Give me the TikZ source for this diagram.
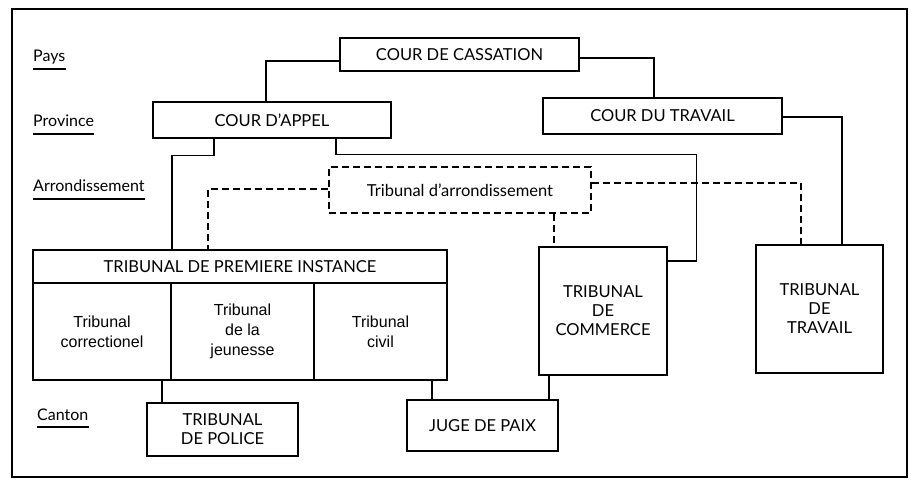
\documentclass[tikz,border=0pt]{standalone}
\usepackage{fontspec}
\setmainfont{Lato}
\newfontfamily\cellfont{Liberation Sans}
\usepackage{tikz}
\usetikzlibrary{positioning}

\begin{document}
\begin{tikzpicture}[x=1pt,y=-1pt,
    box/.style={draw,line width=1.3pt,inner sep=0pt,align=center,font=\fontsize{16.5}{19}\selectfont},
    dashbox/.style={box,line width=2.6pt,dash pattern=on 7pt off 4pt},
    level/.style={anchor=base west,inner sep=0pt,font=\fontsize{16}{18}\selectfont},
    link/.style={line width=1.1pt},
    dlink/.style={line width=2.6pt,dash pattern=on 7pt off 4pt}]
    \useasboundingbox (0,0) rectangle (921,486);
    \draw[line width=1.6pt] (12,9) rectangle (907,477);

    % levels
    \node[level] (pays) at (33,62) {Pays};
    \node[level] (prov) at (33,127) {Province};
    \node[level] (arrl) at (33,192) {Arrondissement};
    \node[level] (cant) at (37,420) {Canton};
    \foreach \l in {pays,prov,arrl,cant}
        \draw[link] ([yshift=-7pt]\l.base west) -- ([yshift=-7pt]\l.base east);

    % courts
    \node[box,minimum width=239pt,minimum height=33pt] (cass) at (459.5,54.5) {COUR DE CASSATION};
    \node[box,minimum width=238pt,minimum height=36pt] (appel) at (272,120) {COUR D'APPEL};
    \node[box,minimum width=239pt,minimum height=36pt] (cdt) at (662.5,116) {COUR DU TRAVAIL};
    \node[dashbox,minimum width=262pt,minimum height=46pt] (arr) at (460,190) {Tribunal d'arrondissement};
    \node[box,minimum width=414pt,minimum height=33pt] (tpi) at (240,266.5) {TRIBUNAL DE PREMIERE INSTANCE};
    \node[box,minimum width=138pt,minimum height=97pt,font=\cellfont\fontsize{16}{20}\selectfont] (corr) at (102,331.5) {Tribunal\\correctionel};
    \node[box,minimum width=143pt,minimum height=97pt,font=\cellfont\fontsize{16}{20}\selectfont] (jeun) at (242.5,331.5) {Tribunal\\de la\\jeunesse};
    \node[box,minimum width=133pt,minimum height=97pt,font=\cellfont\fontsize{16}{20}\selectfont] (civil) at (380.5,331.5) {Tribunal\\civil};
    \node[box,minimum width=128pt,minimum height=128pt] (comm) at (603,311) {TRIBUNAL\\DE\\COMMERCE};
    \node[box,minimum width=127pt,minimum height=128pt] (ttrav) at (819.5,309) {TRIBUNAL\\DE\\TRAVAIL};
    \node[box,minimum width=151pt,minimum height=53pt] (police) at (222.5,429.5) {TRIBUNAL\\DE POLICE};
    \node[box,minimum width=151pt,minimum height=51pt] (paix) at (482.5,425.5) {JUGE DE PAIX};

    % connectors
    \draw[link] ([yshift=-6.5pt]cass.west) -| ([xshift=-6pt]appel.north);
    \draw[link] ([yshift=-3.5pt]cass.east) -| ([xshift=-8.5pt]cdt.north);
    \draw[link] ([xshift=-58pt]appel.south) -- ++(0,17) -| ([xshift=-68pt]tpi.north);
    \draw[link] ([yshift=50pt]comm.east) -- ++(29,0) |- ([xshift=64pt,yshift=-16pt]appel.south) -- ([xshift=64pt]appel.south);
    \draw[link] ([yshift=-1pt]cdt.east) -| ([xshift=22.5pt]ttrav.north);
    \draw[link] ([xshift=60pt]corr.south) -- ([xshift=-60.5pt]police.north);
    \draw[link] ([xshift=51.5pt]civil.south) -- ([xshift=-50.5pt]paix.north);
    \draw[link] ([xshift=-54pt]comm.south) -- ([xshift=66.5pt]paix.north);
    \draw[dlink] ([yshift=1pt]arr.west) -| ([xshift=-32pt]tpi.north);
    \draw[dlink] ([xshift=94pt]arr.south) -- ([xshift=-49pt]comm.north);
    \draw[dlink] ([yshift=7pt]arr.east) -| ([xshift=-18.5pt]ttrav.north);
\end{tikzpicture}
\end{document}
